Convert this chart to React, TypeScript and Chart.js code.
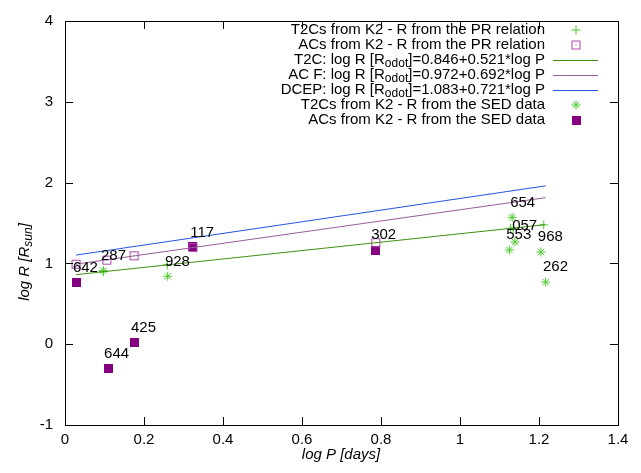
import React, { useEffect, useRef } from "react";
import { Chart, registerables } from "chart.js";
Chart.register(...registerables);

// ---- data ----
const xTicks = [0, 0.2, 0.4, 0.6, 0.8, 1, 1.2, 1.4];
const yTicks = [-1, 0, 1, 2, 3, 4];

// T2Cs from K2 - R from PR relation (+)
const t2cPrX = [0.097, 0.259, 1.128, 1.135, 1.212];
const t2cPrY = [0.897, 0.981, 1.434, 1.437, 1.477];
// ACs from K2 - R from PR relation (open square)
const acPrX = [0.028, 0.106, 0.175, 0.324, 0.787];
const acPrY = [0.99, 1.04, 1.094, 1.196, 1.256];
// relation lines (endpoints)
const t2cLineX = [0.028, 1.215];
const t2cLineY = [0.861, 1.479];
const acLineX = [0.028, 1.217];
const acLineY = [0.991, 1.814];
const dcepLineX = [0.028, 1.217];
const dcepLineY = [1.103, 1.96];
// T2Cs from K2 - R from SED (star)
const t2cSedX = [0.097, 0.26, 1.132, 1.139, 1.125, 1.205, 1.217];
const t2cSedY = [0.91, 0.84, 1.57, 1.265, 1.167, 1.14, 0.768];
// ACs from K2 - R from SED (filled square)
const acSedX = [0.028, 0.109, 0.175, 0.324, 0.787];
const acSedY = [0.76, -0.3, 0.024, 1.207, 1.155];
// point labels
const labelText = ["642", "287", "928", "117", "425", "644", "302", "654", "057", "553", "968", "262"];
const labelX = [0.02, 0.091, 0.253, 0.317, 0.167, 0.099, 0.775, 1.127, 1.132, 1.117, 1.197, 1.21];
const labelY = [0.943, 1.098, 1.024, 1.378, 0.207, -0.122, 1.354, 1.744, 1.463, 1.354, 1.329, 0.951];

const GREEN_PT = "#4ccc2c";
const GREEN_LN = "#3e8e10";
const PURPLE_LN = "#9a5c9a";
const BLUE_LN = "#2255e0";
const PURPLE_FILL = "#850080";
const PURPLE_OPEN = "#a848a8";
const FONT = "'Liberation Sans', Arial, sans-serif";
const FS = 15;
const SUB = 12;

function makeOpenSquare() {
  const c = document.createElement("canvas");
  c.width = 11; c.height = 11;
  const g = c.getContext("2d")!;
  g.strokeStyle = PURPLE_OPEN; g.lineWidth = 1;
  g.strokeRect(1.5, 1.5, 8, 8);
  g.fillStyle = PURPLE_OPEN;
  g.fillRect(5, 5, 1, 1);
  return c;
}
function makeFilledSquare() {
  const c = document.createElement("canvas");
  c.width = 9; c.height = 9;
  const g = c.getContext("2d")!;
  g.fillStyle = PURPLE_FILL;
  g.fillRect(0, 0, 9, 9);
  return c;
}

const pts = (xs: number[], ys: number[]) => xs.map((x, i) => ({ x, y: ys[i] }));

export default function App() {
  const ref = useRef<HTMLCanvasElement>(null);
  useEffect(() => {
    const openSq = makeOpenSquare();
    const fillSq = makeFilledSquare();

    const drawStar = (g: CanvasRenderingContext2D, x: number, y: number) => {
      const r = 4.5, d = r * Math.SQRT1_2;
      g.save(); g.strokeStyle = GREEN_PT; g.lineWidth = 1; g.beginPath();
      g.moveTo(x - r, y); g.lineTo(x + r, y); g.moveTo(x, y - r); g.lineTo(x, y + r);
      g.moveTo(x - d, y - d); g.lineTo(x + d, y + d); g.moveTo(x - d, y + d); g.lineTo(x + d, y - d);
      g.stroke(); g.restore();
    };
    const drawPlus = (g: CanvasRenderingContext2D, x: number, y: number) => {
      const r = 4.5;
      g.save(); g.strokeStyle = GREEN_PT; g.lineWidth = 1; g.beginPath();
      g.moveTo(x - r, y); g.lineTo(x + r, y); g.moveTo(x, y - r); g.lineTo(x, y + r);
      g.stroke(); g.restore();
    };

    const framePlugin = {
      id: "frame",
      afterDatasetsDraw(chart: any) {
        const g: CanvasRenderingContext2D = chart.ctx;
        const { left, right, top, bottom } = chart.chartArea;
        const xs = chart.scales.x, ys = chart.scales.y;
        g.save();
        // labels
        g.fillStyle = "#000"; g.font = `${FS}px ${FONT}`;
        g.textAlign = "left"; g.textBaseline = "middle";
        labelText.forEach((t, i) => {
          g.fillText(t, xs.getPixelForValue(labelX[i]), ys.getPixelForValue(labelY[i]));
        });
        // frame
        g.strokeStyle = "#000"; g.lineWidth = 1;
        g.strokeRect(Math.round(left) + 0.5, Math.round(top) + 0.5, Math.round(right - left), Math.round(bottom - top));
        g.beginPath();
        const tl = 8;
        xTicks.forEach((v) => {
          const px = Math.round(xs.getPixelForValue(v)) + 0.5;
          g.moveTo(px, bottom); g.lineTo(px, bottom - tl);
          g.moveTo(px, top); g.lineTo(px, top + tl);
        });
        yTicks.forEach((v) => {
          const py = Math.round(ys.getPixelForValue(v)) + 0.5;
          g.moveTo(left, py); g.lineTo(left + tl, py);
          g.moveTo(right, py); g.lineTo(right - tl, py);
        });
        g.stroke();

        // legend
        const textRight = 545, sx0 = 553, sx1 = 598, sxc = 576;
        const rowY = [30, 45, 60, 75, 90, 105, 120];
        const drawSub = (pre: string, sub: string, post: string, y: number) => {
          g.font = `${FS}px ${FONT}`;
          const w1 = g.measureText(pre).width;
          const w3 = g.measureText(post).width;
          g.font = `${SUB}px ${FONT}`;
          const w2 = g.measureText(sub).width;
          let x = textRight - (w1 + w2 + w3);
          g.textAlign = "left";
          g.font = `${FS}px ${FONT}`; g.fillText(pre, x, y); x += w1;
          g.font = `${SUB}px ${FONT}`; g.fillText(sub, x, y + 4); x += w2;
          g.font = `${FS}px ${FONT}`; g.fillText(post, x, y);
        };
        g.fillStyle = "#000"; g.textBaseline = "middle";
        g.font = `${FS}px ${FONT}`; g.textAlign = "right";
        g.fillText("T2Cs from K2 - R from the PR relation", textRight, rowY[0]);
        g.fillText("ACs from K2 - R from the PR relation", textRight, rowY[1]);
        drawSub("T2C: log R [R", "odot", "]=0.846+0.521*log P", rowY[2]);
        drawSub("AC F: log R [R", "odot", "]=0.972+0.692*log P", rowY[3]);
        drawSub("DCEP: log R [R", "odot", "]=1.083+0.721*log P", rowY[4]);
        g.textAlign = "right"; g.font = `${FS}px ${FONT}`;
        g.fillText("T2Cs from K2 - R from the SED data", textRight, rowY[5]);
        g.fillText("ACs from K2 - R from the SED data", textRight, rowY[6]);
        drawPlus(g, sxc, rowY[0]);
        g.drawImage(openSq, sxc - 5.5, rowY[1] - 5.5);
        [GREEN_LN, PURPLE_LN, BLUE_LN].forEach((c, i) => {
          g.strokeStyle = c; g.lineWidth = 1; g.beginPath();
          g.moveTo(sx0, rowY[2 + i] + 0.5); g.lineTo(sx1, rowY[2 + i] + 0.5); g.stroke();
        });
        drawStar(g, sxc, rowY[5]);
        g.drawImage(fillSq, sxc - 4.5, rowY[6] - 4.5);

        // axis titles
        g.fillStyle = "#000";
        g.font = `italic ${FS}px ${FONT}`; g.textAlign = "center"; g.textBaseline = "middle";
        g.fillText("log P [days]", 341, 455);
        g.save();
        g.translate(25, 262); g.rotate(-Math.PI / 2);
        const a = "log R [R", b = "sun", c2 = "]";
        g.font = `italic ${FS}px ${FONT}`;
        const wa = g.measureText(a).width, wc = g.measureText(c2).width;
        g.font = `italic ${SUB}px ${FONT}`;
        const wb = g.measureText(b).width;
        let x = -(wa + wb + wc) / 2;
        g.textAlign = "left";
        g.font = `italic ${FS}px ${FONT}`; g.fillText(a, x, 0); x += wa;
        g.font = `italic ${SUB}px ${FONT}`; g.fillText(b, x, 4); x += wb;
        g.font = `italic ${FS}px ${FONT}`; g.fillText(c2, x, 0);
        g.restore();
        g.restore();
      },
    };

    const chart = new Chart(ref.current!, {
      type: "scatter",
      data: {
        datasets: [
          { label: "T2C line", data: pts(t2cLineX, t2cLineY), showLine: true, borderColor: GREEN_LN, borderWidth: 1, pointRadius: 0 },
          { label: "AC line", data: pts(acLineX, acLineY), showLine: true, borderColor: PURPLE_LN, borderWidth: 1, pointRadius: 0 },
          { label: "DCEP line", data: pts(dcepLineX, dcepLineY), showLine: true, borderColor: BLUE_LN, borderWidth: 1, pointRadius: 0 },
          { label: "T2C PR", data: pts(t2cPrX, t2cPrY), pointStyle: "cross", pointRadius: 4.5, borderColor: GREEN_PT, borderWidth: 1 },
          { label: "AC PR", data: pts(acPrX, acPrY), pointStyle: openSq as any, pointRadius: 5 },
          { label: "T2C SED", data: pts(t2cSedX, t2cSedY), pointStyle: "star", pointRadius: 4.5, borderColor: GREEN_PT, borderWidth: 1 },
          { label: "AC SED", data: pts(acSedX, acSedY), pointStyle: fillSq as any, pointRadius: 5 },
        ] as any,
      },
      options: {
        animation: false,
        responsive: false,
        devicePixelRatio: 1,
        layout: { padding: { top: 15, right: 23, left: 0, bottom: 0 } },
        plugins: { legend: { display: false }, tooltip: { enabled: false } },
        scales: {
          x: {
            type: "linear", min: 0, max: 1.4,
            grid: { display: false, drawTicks: false }, border: { display: false },
            afterBuildTicks: (s: any) => { s.ticks = xTicks.map((v) => ({ value: v })); },
            afterFit: (s: any) => { s.height = 48; },
            ticks: {
              padding: 6, color: "#000", font: { family: FONT, size: FS }, maxRotation: 0, autoSkip: false,
              callback: (v: any) => String(Math.round(Number(v) * 10) / 10),
            },
          },
          y: {
            type: "linear", min: -1, max: 4,
            grid: { display: false, drawTicks: false }, border: { display: false },
            afterBuildTicks: (s: any) => { s.ticks = yTicks.map((v) => ({ value: v })); },
            afterFit: (s: any) => { s.width = 65; },
            ticks: {
              padding: 12, color: "#000", font: { family: FONT, size: FS },
              callback: (v: any) => String(v),
            },
          },
        },
      } as any,
      plugins: [framePlugin],
    });
    return () => chart.destroy();
  }, []);
  return (
    <div style={{ position: "absolute", left: 0, top: 0, width: 641, height: 473, background: "#fff" }}>
      <canvas ref={ref} width={641} height={473} style={{ width: 641, height: 473 }} />
    </div>
  );
}
